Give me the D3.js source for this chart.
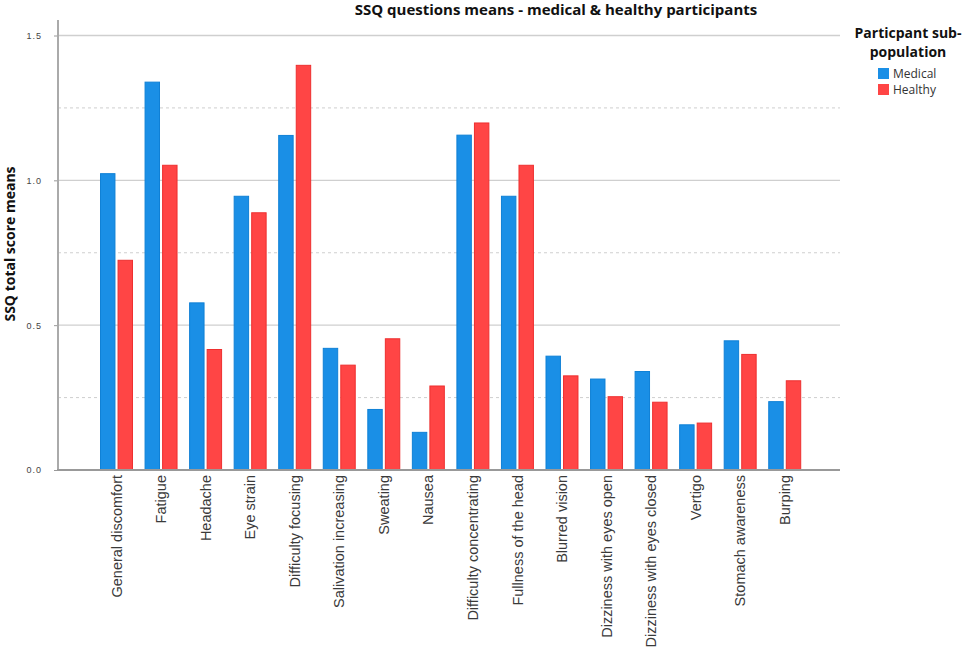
<!DOCTYPE html>
<html>
<head>
<meta charset="utf-8">
<script src="https://cdn.jsdelivr.net/npm/d3@7"></script>
<style>
  body { margin: 0; background: #fff; }
  svg { font-family: "Open Sans", "DejaVu Sans", sans-serif; }
</style>
</head>
<body>
<div id="chart"></div>
<script>
// data
const categories = ["General discomfort", "Fatigue", "Headache", "Eye strain", "Difficulty focusing",
  "Salivation increasing", "Sweating", "Nausea", "Difficulty concentrating", "Fullness of the head",
  "Blurred vision", "Dizziness with eyes open", "Dizziness with eyes closed", "Vertigo",
  "Stomach awareness", "Burping"];
const series = ["Medical", "Healthy"];
const medical = [1.023, 1.339, 0.577, 0.945, 1.155, 0.420, 0.209, 0.130, 1.156, 0.945, 0.393, 0.314, 0.340, 0.156, 0.446, 0.236];
const healthy = [0.724, 1.052, 0.416, 0.888, 1.397, 0.362, 0.453, 0.290, 1.198, 1.052, 0.325, 0.253, 0.234, 0.162, 0.399, 0.308];
const yTicks = [0, 0.5, 1.0, 1.5];
const yMinor = [0.25, 0.75, 1.25];

const width = 969, height = 660;
const margin = {left: 58, right: 129, top: 20, bottom: 190};

const fill = {Medical: "#1a8fe6", Healthy: "#ff4545"};
const edge = {Medical: "#0f80d6", Healthy: "#ee2f2f"};

const rows = categories.map((c, i) => ({category: c, Medical: medical[i], Healthy: healthy[i]}));

const svg = d3.select("#chart").append("svg")
  .attr("width", width)
  .attr("height", height);

// scales
const x = d3.scaleBand()
  .domain(categories)
  .range([margin.left, width - margin.right])
  .paddingInner(0.26)
  .paddingOuter(0.907)
  .align(0.52);

const xs = d3.scaleBand()
  .domain(series)
  .range([0, x.bandwidth()])
  .paddingInner(0.12);

const y = d3.scaleLinear()
  .domain([0, 1.5])
  .range([height - margin.bottom, 35.5]);

// grid lines
svg.append("g")
  .selectAll("line")
  .data(yTicks.filter(d => d > 0))
  .join("line")
  .attr("x1", margin.left).attr("x2", width - margin.right)
  .attr("y1", d => y(d)).attr("y2", d => y(d))
  .style("stroke", "#cfcfcf")
  .style("stroke-width", 1.3);

svg.append("g")
  .selectAll("line")
  .data(yMinor)
  .join("line")
  .attr("x1", margin.left).attr("x2", width - margin.right)
  .attr("y1", d => y(d)).attr("y2", d => y(d))
  .style("stroke", "#cfcfcf")
  .style("stroke-width", 1)
  .style("stroke-dasharray", "3,3");

// bars
const groups = svg.append("g")
  .selectAll("g")
  .data(rows)
  .join("g")
  .attr("transform", d => `translate(${x(d.category)},0)`);

groups.selectAll("rect")
  .data(d => series.map(s => ({key: s, value: d[s]})))
  .join("rect")
  .attr("x", d => xs(d.key) + 0.5)
  .attr("y", d => y(d.value))
  .attr("width", xs.bandwidth() - 1)
  .attr("height", d => y(0) - y(d.value))
  .style("fill", d => fill[d.key])
  .style("stroke", d => edge[d.key])
  .style("stroke-width", 1);

// y axis
const yAxis = svg.append("g")
  .attr("transform", `translate(${margin.left},0)`)
  .call(d3.axisLeft(y).tickValues(yTicks).tickFormat(d3.format(".1f")).tickSize(4).tickPadding(12));
yAxis.select(".domain").remove();
yAxis.selectAll(".tick line").style("stroke", "#999");
yAxis.selectAll(".tick text")
  .style("font-size", "9px")
  .style("fill", "#444")
  .style("letter-spacing", "1px");

svg.append("line")
  .attr("x1", margin.left).attr("x2", margin.left)
  .attr("y1", margin.top).attr("y2", y(0))
  .style("stroke", "#aaa")
  .style("stroke-width", 2);

// x axis
const xAxis = svg.append("g")
  .attr("transform", `translate(0,${y(0)})`)
  .call(d3.axisBottom(x).tickSize(0).tickPadding(0));
xAxis.select(".domain").remove();
xAxis.selectAll(".tick text")
  .attr("transform", "rotate(-90)")
  .attr("text-anchor", "end")
  .attr("x", -5)
  .attr("y", 0)
  .attr("dy", "0.35em")
  .style("font-size", "14.5px")
  .style("fill", "#3a3a3a");

svg.append("line")
  .attr("x1", margin.left - 1).attr("x2", width - margin.right)
  .attr("y1", y(0)).attr("y2", y(0))
  .style("stroke", "#999")
  .style("stroke-width", 2);

// titles
svg.append("text")
  .attr("x", 556)
  .attr("y", 15)
  .attr("text-anchor", "middle")
  .style("font-weight", "bold")
  .style("font-size", "15px")
  .style("fill", "#111")
  .text("SSQ questions means - medical & healthy participants");

svg.append("text")
  .attr("transform", "rotate(-90)")
  .attr("x", -244)
  .attr("y", 15)
  .attr("text-anchor", "middle")
  .style("font-weight", "bold")
  .style("font-size", "14px")
  .style("fill", "#111")
  .text("SSQ total score means");

// legend
const legend = svg.append("g").attr("transform", "translate(908,0)");
legend.append("text")
  .attr("y", 38)
  .attr("text-anchor", "middle")
  .style("font-weight", "bold")
  .style("font-size", "14px")
  .style("fill", "#111")
  .text("Particpant sub-");
legend.append("text")
  .attr("y", 57)
  .attr("text-anchor", "middle")
  .style("font-weight", "bold")
  .style("font-size", "14px")
  .style("fill", "#111")
  .text("population");

const items = legend.selectAll(".item")
  .data(series)
  .join("g")
  .attr("class", "item")
  .attr("transform", (d, i) => `translate(-30,${68 + i * 16})`);
items.append("rect")
  .attr("width", 11).attr("height", 11)
  .style("fill", d => fill[d]);
items.append("text")
  .attr("x", 15)
  .attr("y", 6)
  .attr("dy", "0.35em")
  .style("font-size", "12px")
  .style("fill", "#333")
  .text(d => d);
</script>
</body>
</html>
